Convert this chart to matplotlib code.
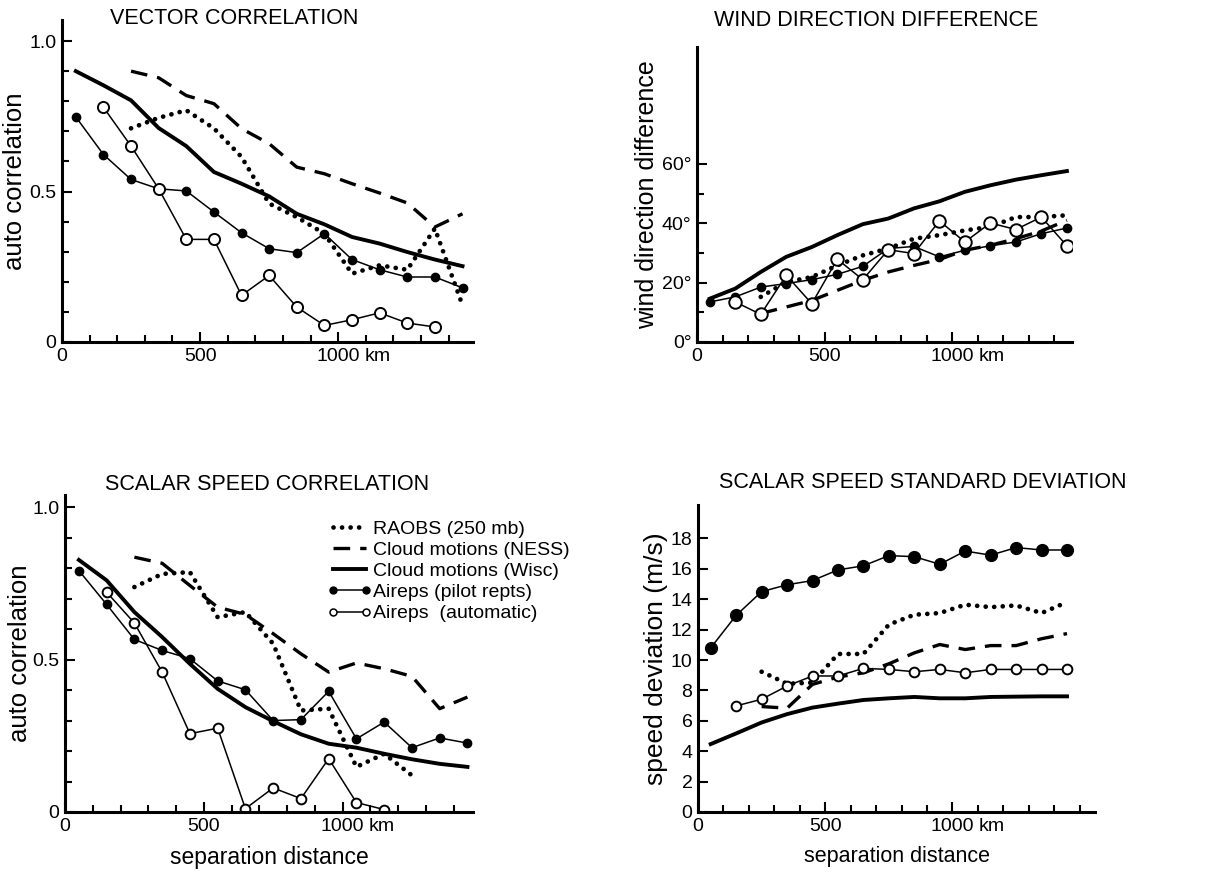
import matplotlib
matplotlib.use("Agg")
import matplotlib.pyplot as plt
from matplotlib.ticker import MultipleLocator, FixedLocator

plt.rcParams['font.family'] = ['Liberation Sans', 'DejaVu Sans']

# separation distance (km)
km = [50, 150, 250, 350, 450, 550, 650, 750, 850, 950, 1050, 1150, 1250, 1350, 1450]
km_ness = km[2:]     # cloud motions (NESS) and RAOBS start at 250 km
km_auto = km[1:]     # automatic aireps start at 150 km

# VECTOR CORRELATION
vc_raobs = [0.71, 0.745, 0.77, 0.71, 0.615, 0.46, 0.415, 0.36, 0.227, 0.255, 0.24, 0.377, 0.122]
vc_ness = [0.90, 0.878, 0.819, 0.792, 0.709, 0.659, 0.581, 0.559, 0.526, 0.495, 0.462, 0.382, 0.426]
vc_wisc = [0.90, 0.853, 0.803, 0.711, 0.651, 0.565, 0.526, 0.484, 0.426, 0.391, 0.349, 0.327, 0.299, 0.274, 0.252]
vc_pilot = [0.748, 0.623, 0.54, 0.509, 0.502, 0.432, 0.363, 0.31, 0.297, 0.36, 0.274, 0.24, 0.216, 0.216, 0.18]
vc_auto = [0.78, 0.651, 0.509, 0.341, 0.341, 0.155, 0.221, 0.116, 0.055, 0.074, 0.097, 0.063, 0.05]

# WIND DIRECTION DIFFERENCE (deg)
wd_raobs = [15.2, 20.2, 21.9, 25.8, 29.2, 31.5, 34.8, 36.0, 37.6, 38.8, 42.1, 42.1, 42.7]
wd_ness = [9.6, 11.8, 14.0, 17.4, 20.8, 23.6, 25.8, 27.8, 30.9, 32.6, 34.8, 37.4, 41.0]
wd_wisc = [14.6, 18.0, 23.6, 28.7, 32.0, 36.0, 39.7, 41.6, 45.0, 47.4, 50.6, 52.8, 54.7, 56.2, 57.6]
wd_pilot = [13.5, 15.2, 18.5, 19.7, 21.0, 22.8, 25.5, 31.5, 32.2, 28.7, 30.9, 32.4, 33.7, 36.5, 38.4]
wd_auto = [13.5, 9.3, 22.5, 12.9, 27.9, 21.0, 31.1, 29.8, 40.8, 33.7, 40.1, 37.9, 42.1, 32.4]

# SCALAR SPEED CORRELATION
sc_raobs = [0.738, 0.781, 0.787, 0.639, 0.656, 0.552, 0.333, 0.339, 0.148, 0.191, 0.12]
sc_ness = [0.836, 0.816, 0.743, 0.672, 0.648, 0.585, 0.519, 0.459, 0.489, 0.47, 0.445, 0.339, 0.377]
sc_wisc = [0.827, 0.76, 0.656, 0.574, 0.486, 0.404, 0.344, 0.298, 0.255, 0.224, 0.211, 0.191, 0.173, 0.158, 0.148]
sc_pilot = [0.792, 0.681, 0.566, 0.53, 0.503, 0.43, 0.401, 0.30, 0.303, 0.396, 0.24, 0.295, 0.211, 0.243, 0.226]
sc_auto = [0.721, 0.62, 0.459, 0.257, 0.275, 0.011, 0.079, 0.044, 0.175, 0.031, 0.008]

# SCALAR SPEED STANDARD DEVIATION (m/s)
sd_raobs = [9.23, 8.44, 8.51, 10.4, 10.4, 12.33, 12.98, 13.09, 13.64, 13.48, 13.59, 13.09, 13.81]
sd_ness = [6.94, 6.83, 8.4, 8.88, 9.16, 9.75, 10.47, 11.02, 10.69, 10.95, 10.95, 11.4, 11.74]
sd_wisc = [4.47, 5.17, 5.89, 6.44, 6.87, 7.13, 7.37, 7.48, 7.57, 7.48, 7.48, 7.57, 7.59, 7.61, 7.61]
sd_pilot = [10.8, 12.94, 14.5, 14.95, 15.23, 15.93, 16.2, 16.87, 16.8, 16.3, 17.17, 16.9, 17.4, 17.24, 17.24]
sd_auto = [6.98, 7.42, 8.29, 8.95, 8.95, 9.45, 9.38, 9.23, 9.38, 9.16, 9.38, 9.38, 9.38, 9.38]

labels = ['RAOBS (250 mb)', 'Cloud motions (NESS)', 'Cloud motions (Wisc)',
          'Aireps (pilot repts)', 'Aireps  (automatic)']

DOT = dict(color='black', lw=3.4, linestyle=(0, (0.01, 1.8)), dash_capstyle='round', solid_capstyle='round')
DASH = dict(color='black', lw=2.4, linestyle=(0, (5, 3)))
SOLID = dict(color='black', lw=2.8)


def style(ax, xmax, ymax):
    for s in ['top', 'right']:
        ax.spines[s].set_visible(False)
    for s in ['left', 'bottom']:
        ax.spines[s].set_linewidth(2.2)
    ax.set_xlim(0, xmax)
    ax.set_ylim(0, ymax)
    ax.xaxis.set_major_locator(FixedLocator([0, 500, 1000]))
    ax.set_xticklabels(['0', '500', '1000'])
    ax.xaxis.set_minor_locator(MultipleLocator(100))
    ax.tick_params(which='both', direction='in', width=1.5, labelsize=14, pad=4)
    ax.tick_params(which='major', length=7)
    ax.tick_params(which='minor', length=5)
    # unit after the 1000 tick label
    ax.annotate('km', xy=(1000, 0), xycoords=('data', 'axes fraction'),
                xytext=(19, -4), textcoords='offset points', ha='left', va='top', fontsize=14)


def series(ax, raobs, ness, wisc, pilot, auto, ms_f=6, ms_o=8):
    h1, = ax.plot(km_ness[:len(raobs)], raobs, **DOT)
    h2, = ax.plot(km_ness, ness, **DASH)
    h3, = ax.plot(km, wisc, **SOLID)
    h4, = ax.plot(km, pilot, color='black', lw=1.1, marker='o', ms=ms_f,
                  mfc='black', mec='black')
    h5, = ax.plot(km_auto[:len(auto)], auto, color='black', lw=1.1, marker='o', ms=ms_o,
                  mfc='white', mec='black', mew=1.4)
    return [h1, h2, h3, h4, h5]


fig = plt.figure(figsize=(12.09, 8.73), dpi=100)
W, H = 1209, 873


def axes_px(l, r, t, b):
    return fig.add_axes([l / W, 1 - b / H, (r - l) / W, (b - t) / H])


# top left
ax1 = axes_px(62, 473, 20, 342)
series(ax1, vc_raobs, vc_ness, vc_wisc, vc_pilot, vc_auto)
style(ax1, 1488, 1.07)
ax1.yaxis.set_major_locator(FixedLocator([0, 0.5, 1.0]))
ax1.set_yticklabels(['0', '0.5', '1.0'])
ax1.yaxis.set_minor_locator(MultipleLocator(0.1))
ax1.set_ylabel('auto correlation', fontsize=18.5, labelpad=2)
fig.text(234 / W, 1 - 18 / H, 'VECTOR CORRELATION', fontsize=15.5, ha='center', va='center')

# top right
ax2 = axes_px(697, 1072, 47, 342)
series(ax2, wd_raobs, wd_ness, wd_wisc, wd_pilot, wd_auto, ms_f=6, ms_o=9)
style(ax2, 1470, 99.4)
ax2.yaxis.set_major_locator(FixedLocator([0, 20, 40, 60]))
ax2.set_yticklabels(['0°', '20°', '40°', '60°'])
ax2.yaxis.set_minor_locator(FixedLocator([10, 30, 50]))
ax2.set_ylabel('wind direction difference', fontsize=18, labelpad=2)
fig.text(876 / W, 1 - 20 / H, 'WIND DIRECTION DIFFERENCE', fontsize=15.5, ha='center', va='center')

# bottom left
ax3 = axes_px(65, 473, 495, 812)
hs = series(ax3, sc_raobs, sc_ness, sc_wisc, sc_pilot, sc_auto, ms_f=6, ms_o=7)
style(ax3, 1470, 1.04)
ax3.yaxis.set_major_locator(FixedLocator([0, 0.5, 1.0]))
ax3.set_yticklabels(['0', '0.5', '1.0'])
ax3.yaxis.set_minor_locator(MultipleLocator(0.1))
ax3.set_ylabel('auto correlation', fontsize=18.5, labelpad=0)
ax3.set_xlabel('separation distance', fontsize=16.5, labelpad=8)
fig.text(267 / W, 1 - 485 / H, 'SCALAR SPEED CORRELATION', fontsize=15.5, ha='center', va='center')

# legend handles: filled / open markers at both ends
leg_h = hs[:3]
leg_h.append(plt.Line2D([], [], color='black', lw=1.1, marker='o', ms=5, mfc='black'))
leg_h.append(plt.Line2D([], [], color='black', lw=1.1, marker='o', ms=5, mfc='white', mew=1.1))
leg = ax3.legend(leg_h, labels, loc='upper left', bbox_to_anchor=(0.642, 0.92),
                 frameon=False, fontsize=14, numpoints=2, handlelength=2.3,
                 handletextpad=0.05, labelspacing=0.18, borderpad=0, borderaxespad=0)
leg.set_clip_on(False)

# bottom right
ax4 = axes_px(698, 1095, 505, 812)
series(ax4, sd_raobs, sd_ness, sd_wisc, sd_pilot, sd_auto, ms_f=8.5, ms_o=7)
style(ax4, 1560, 20.2)
ax4.yaxis.set_major_locator(FixedLocator(list(range(0, 19, 2))))
ax4.set_ylabel('speed deviation (m/s)', fontsize=19, labelpad=2)
ax4.set_xlabel('separation distance', fontsize=15.5, labelpad=8)
fig.text(923 / W, 1 - 482 / H, 'SCALAR SPEED STANDARD DEVIATION', fontsize=15.5, ha='center', va='center')

fig.savefig('out.png', dpi=100)
